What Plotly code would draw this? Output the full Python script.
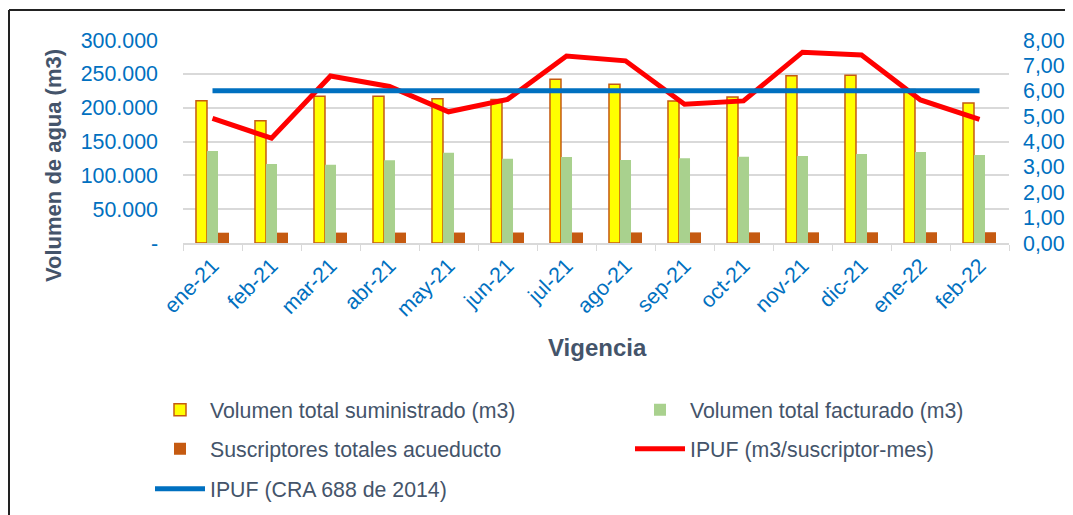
import plotly.graph_objects as go

meses = ["ene-21", "feb-21", "mar-21", "abr-21", "may-21", "jun-21", "jul-21",
         "ago-21", "sep-21", "oct-21", "nov-21", "dic-21", "ene-22", "feb-22"]

vol_suministrado = [210300, 180700, 217000, 216800, 213000, 212000, 242000,
                    234500, 210000, 215700, 247000, 247800, 227000, 207000]
vol_facturado = [136000, 116700, 115700, 122200, 133500, 124600, 127000,
                 122600, 125100, 127600, 128600, 131500, 134500, 130000]
suscriptores = [15200, 15300, 15350, 15400, 15450, 15500, 15550,
                15600, 15650, 15700, 15750, 15800, 15850, 15900]
ipuf = [4.91, 4.13, 6.58, 6.17, 5.17, 5.66, 7.37,
        7.18, 5.47, 5.60, 7.52, 7.41, 5.64, 4.87]
ipuf_cra = [6.0] * len(meses)

vol_ticks = [0, 50000, 100000, 150000, 200000, 250000, 300000]
vol_ticktext = ["-", "50.000", "100.000", "150.000", "200.000", "250.000", "300.000"]

FONT = "Liberation Sans, Arial, sans-serif"
BLUE = "#0070C0"
SLATE = "#44546A"

# la pagina deja 8px de margen en el body: la figura se hace 8px mas chica
OFF = 8
X0, X1, Y0, Y1 = 183, 1009, 40, 243   # area de trazado en la captura


def px(x):
    return (x - X0) / (X1 - X0)


def py(y):
    return (Y1 - y) / (Y1 - Y0)


fig = go.Figure()
fig.add_trace(go.Bar(x=meses, y=vol_suministrado, name="Volumen total suministrado (m3)",
                     marker=dict(color="#FFFF00", line=dict(color="#C55A11", width=1.5)),
                     legend="legend"))
fig.add_trace(go.Bar(x=meses, y=vol_facturado, name="Volumen total facturado (m3)",
                     marker=dict(color="#A9D18E", line=dict(width=0)), legend="legend2"))
fig.add_trace(go.Bar(x=meses, y=suscriptores, name="Suscriptores totales acueducto",
                     marker=dict(color="#C55A11", line=dict(width=0)), legend="legend3"))
fig.add_trace(go.Scatter(x=meses, y=ipuf, name="IPUF (m3/suscriptor-mes)", yaxis="y2",
                         mode="lines", line=dict(color="#FF0000", width=5), legend="legend4"))
fig.add_trace(go.Scatter(x=meses, y=ipuf_cra, name="IPUF (CRA 688 de 2014)", yaxis="y2",
                         mode="lines", line=dict(color=BLUE, width=5), legend="legend5"))

leg = dict(orientation="h", xanchor="left", yanchor="middle",
           font=dict(family=FONT, size=21.3, color=SLATE), itemwidth=50,
           bgcolor="rgba(0,0,0,0)")
col1, col2 = px(150), px(630)
fila1, fila2, fila3 = py(410), py(449), py(489)

fig.update_layout(
    width=1073 - OFF, height=515 - OFF,
    margin=dict(l=X0 - OFF, r=1073 - X1, t=Y0 - OFF, b=515 - Y1, autoexpand=False),
    paper_bgcolor="white", plot_bgcolor="white",
    separators=",.",
    barmode="group", bargap=0.44, bargroupgap=0,
    font=dict(family=FONT, size=20, color=SLATE),
    xaxis=dict(tickangle=-45, tickfont=dict(color=BLUE, size=21.4), ticks="outside",
               tickson="boundaries", ticklen=6, tickcolor="#D9D9D9", showline=True,
               linecolor="#D9D9D9", linewidth=1.5, showgrid=False, automargin=False),
    yaxis=dict(range=[0, 300000], tickvals=vol_ticks, ticktext=vol_ticktext,
               tickfont=dict(color=BLUE, size=21.4), gridcolor="#D9D9D9",
               gridwidth=1.5, zeroline=False, showline=False, ticks="",
               ticklabelstandoff=24, automargin=False),
    yaxis2=dict(range=[0, 8], dtick=1, tickformat=".2f", overlaying="y", side="right",
                tickfont=dict(color=BLUE, size=21.4), showgrid=False, zeroline=False,
                showline=False, ticklabelstandoff=13, automargin=False),
    legend=dict(leg, x=col1, y=fila1),
    legend2=dict(leg, x=col2, y=fila1),
    legend3=dict(leg, x=col1, y=fila2),
    legend4=dict(leg, x=col2, y=fila2),
    legend5=dict(leg, x=col1, y=fila3),
    showlegend=True,
)

fig.add_annotation(text="<b>Volumen de agua (m3)</b>", xref="paper", yref="paper",
                   x=px(53), y=py(166), xanchor="center", yanchor="middle",
                   textangle=-90, showarrow=False, font=dict(size=22, color=SLATE))
fig.add_annotation(text="<b>Vigencia</b>", xref="paper", yref="paper",
                   x=px(597), y=py(347), xanchor="center", yanchor="middle",
                   showarrow=False, font=dict(size=24, color=SLATE))

# marco del grafico
fig.add_shape(type="line", xref="paper", yref="paper",
              x0=px(9), x1=px(9), y0=py(10), y1=py(530),
              line=dict(color="#222222", width=2))
fig.add_shape(type="line", xref="paper", yref="paper",
              x0=px(9), x1=px(1090), y0=py(10), y1=py(10),
              line=dict(color="#222222", width=2))

fig.write_html("out.html")
